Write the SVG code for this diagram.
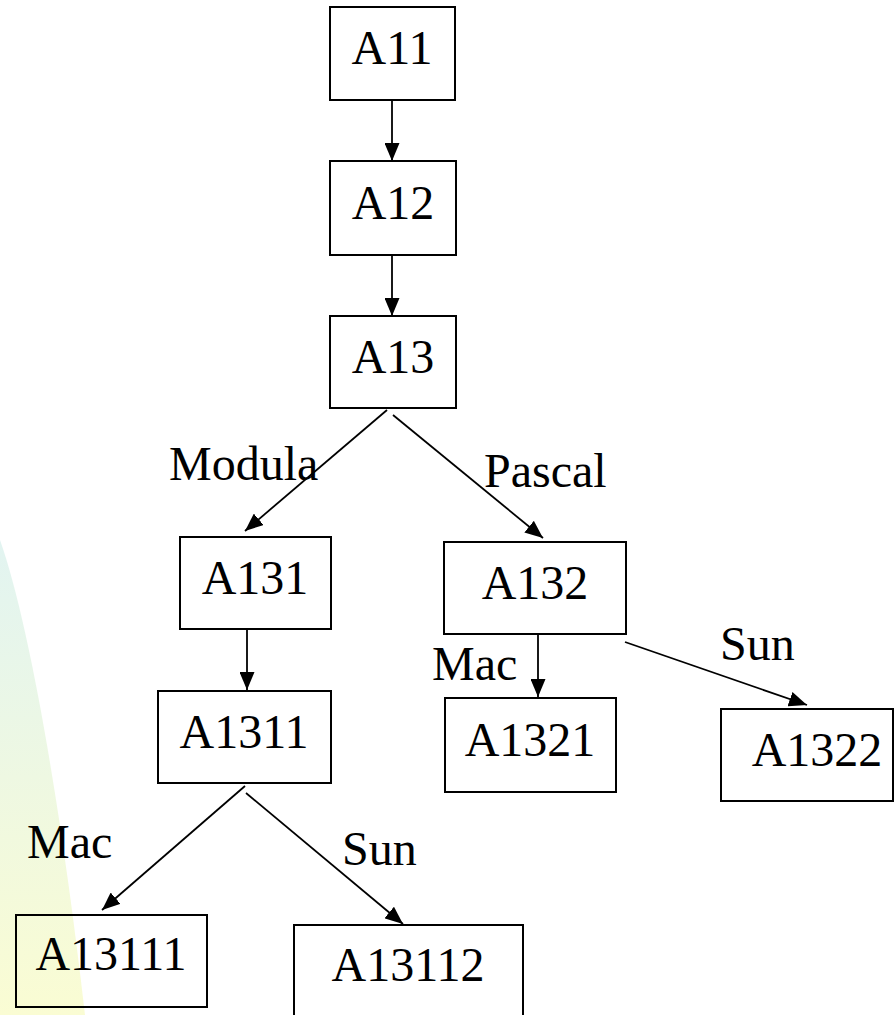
<svg xmlns="http://www.w3.org/2000/svg" width="895" height="1015" viewBox="0 0 895 1015">
  <defs>
    <linearGradient id="sweepFill" x1="0" y1="540" x2="0" y2="1015" gradientUnits="userSpaceOnUse">
      <stop offset="0" stop-color="#e2f4f1"/>
      <stop offset="0.5" stop-color="#eef8e2"/>
      <stop offset="1" stop-color="#fafcd3"/>
    </linearGradient>
    <marker id="arrow" viewBox="0 0 18 15" refX="18" refY="7.5" markerWidth="18" markerHeight="15" markerUnits="userSpaceOnUse" orient="auto">
      <path d="M0,0 L18,7.5 L0,15 Z" fill="#000"/>
    </marker>
  </defs>
  <style>
    .box { fill: none; stroke: #000; stroke-width: 2; }
    .label { font-family: "Liberation Serif", "Times New Roman", serif; font-size: 48px; fill: #000; }
    .node text { text-anchor: middle; }
    .edge { stroke: #000; stroke-width: 1.8; fill: none; marker-end: url(#arrow); }
  </style>

  <rect width="895" height="1015" fill="#fff"/>
  <!-- background sweep on the left -->
  <path d="M0,540 C30,625 62,815 85,1015 L0,1015 Z" fill="url(#sweepFill)"/>

  <g id="connectors">
    <line class="edge" x1="392" y1="100" x2="392" y2="161"/>
    <line class="edge" x1="392" y1="255" x2="392" y2="316"/>
    <line class="edge" x1="387" y1="410" x2="245" y2="531"/>
    <line class="edge" x1="393" y1="415" x2="543" y2="538"/>
    <line class="edge" x1="247" y1="629" x2="247" y2="690"/>
    <line class="edge" x1="538" y1="634" x2="538" y2="697"/>
    <line class="edge" x1="625" y1="642" x2="807" y2="705"/>
    <line class="edge" x1="245" y1="786" x2="102" y2="910"/>
    <line class="edge" x1="246" y1="793" x2="403" y2="924"/>
  </g>

  <g id="edge-labels">
    <text class="label" x="169" y="480">Modula</text>
    <text class="label" x="484" y="487">Pascal</text>
    <text class="label" x="432" y="680">Mac</text>
    <text class="label" x="720" y="660">Sun</text>
    <text class="label" x="27" y="858">Mac</text>
    <text class="label" x="342" y="865">Sun</text>
  </g>

  <g id="A11" class="node">
    <rect class="box" x="330" y="7" width="125" height="93"/>
    <text class="label" x="392" y="64">A11</text>
  </g>
  <g id="A12" class="node">
    <rect class="box" x="330" y="161" width="126" height="94"/>
    <text class="label" x="393" y="219">A12</text>
  </g>
  <g id="A13" class="node">
    <rect class="box" x="330" y="316" width="126" height="92"/>
    <text class="label" x="393" y="373">A13</text>
  </g>
  <g id="A131" class="node">
    <rect class="box" x="180" y="537" width="151" height="92"/>
    <text class="label" x="255" y="594">A131</text>
  </g>
  <g id="A132" class="node">
    <rect class="box" x="444" y="542" width="182" height="92"/>
    <text class="label" x="535" y="599">A132</text>
  </g>
  <g id="A1311" class="node">
    <rect class="box" x="158" y="691" width="173" height="92"/>
    <text class="label" x="244" y="748">A1311</text>
  </g>
  <g id="A1321" class="node">
    <rect class="box" x="445" y="698" width="171" height="94"/>
    <text class="label" x="530" y="756">A1321</text>
  </g>
  <g id="A1322" class="node">
    <rect class="box" x="721" y="709" width="172" height="92"/>
    <text class="label" x="817" y="766">A1322</text>
  </g>
  <g id="A13111" class="node">
    <rect class="box" x="16" y="915" width="191" height="92"/>
    <text class="label" x="111" y="970">A13111</text>
  </g>
  <g id="A13112" class="node">
    <rect class="box" x="294" y="925" width="229" height="100"/>
    <text class="label" x="408" y="981">A13112</text>
  </g>
</svg>
